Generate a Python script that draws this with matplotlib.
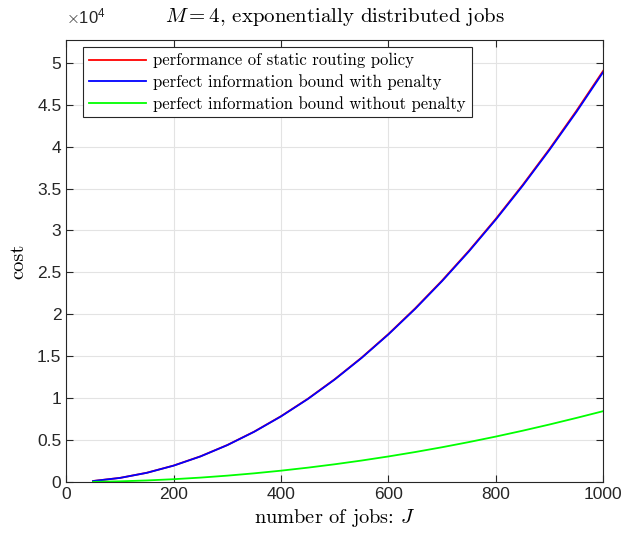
import matplotlib
matplotlib.use("Agg")
import matplotlib.pyplot as plt
from matplotlib.ticker import FuncFormatter

plt.rcParams['mathtext.fontset'] = 'cm'
plt.rcParams['font.family'] = ['Liberation Sans', 'DejaVu Sans']

# number of jobs
jobs = [50, 100, 150, 200, 250, 300, 350, 400, 450, 500,
        550, 600, 650, 700, 750, 800, 850, 900, 950, 1000]
# performance of static routing policy
static_cost = [125, 495, 1105, 1965, 3065, 4415, 6010, 7850, 9930, 12260,
               14830, 17650, 20720, 24030, 27580, 31380, 35420, 39710, 44250, 49030]
# perfect information bound with penalty
bound_pen = [120, 488, 1098, 1955, 3052, 4400, 5990, 7825, 9900, 12225,
             14790, 17600, 20655, 23960, 27500, 31290, 35320, 39600, 44110, 48880]
# perfect information bound without penalty
bound_nopen = [21, 85, 190, 338, 528, 762, 1038, 1355, 1715, 2118,
               2563, 3050, 3578, 4150, 4765, 5420, 6120, 6860, 7640, 8450]

fig = plt.figure(figsize=(6.25, 5.35), dpi=100)
ax = fig.add_axes([0.106, 0.099, 0.859, 0.826])

ax.plot(jobs, static_cost, color='#ff0000', lw=1.3, label='performance of static routing policy')
ax.plot(jobs, bound_pen, color='#0000ff', lw=1.3, label='perfect information bound with penalty')
ax.plot(jobs, bound_nopen, color='#00ff00', lw=1.3, label='perfect information bound without penalty')

ax.set_xlim(0, 1000)
ax.set_ylim(0, 52700)
ax.set_xticks([0, 200, 400, 600, 800, 1000])
ax.set_yticks([i * 5000 for i in range(11)])
ax.yaxis.set_major_formatter(FuncFormatter(lambda v, p: '%g' % (v / 1e4)))
ax.text(0.0, 1.03, r'$\times\mathregular{10^{4}}$', transform=ax.transAxes,
        fontsize=12, color='#262626', va='bottom', ha='left')

ax.grid(True, color='#e3e3e3', lw=0.8)
ax.set_axisbelow(True)
ax.tick_params(direction='in', length=5, width=0.8, labelsize=12.5, colors='#262626',
               top=True, right=True)
for s in ax.spines.values():
    s.set_color('#262626')
    s.set_linewidth(0.8)

ax.set_title(r'$M = 4$, exponentially distributed jobs', fontsize=15,
             family='cmr10', pad=13)
ax.set_xlabel(r'number of jobs: $J$', fontsize=14.7, family='cmr10', labelpad=4)
ax.set_ylabel('cost', fontsize=14.7, family='cmr10', labelpad=7)

leg = ax.legend(loc='upper left', bbox_to_anchor=(0.032, 0.984), borderaxespad=0,
                fancybox=False, edgecolor='#262626', framealpha=1, handlelength=3.4,
                prop={'family': 'cmr10', 'size': 12}, borderpad=0.35,
                labelspacing=0.35, handletextpad=0.45)
leg.get_frame().set_linewidth(0.8)

fig.savefig('out.png', dpi=100)
